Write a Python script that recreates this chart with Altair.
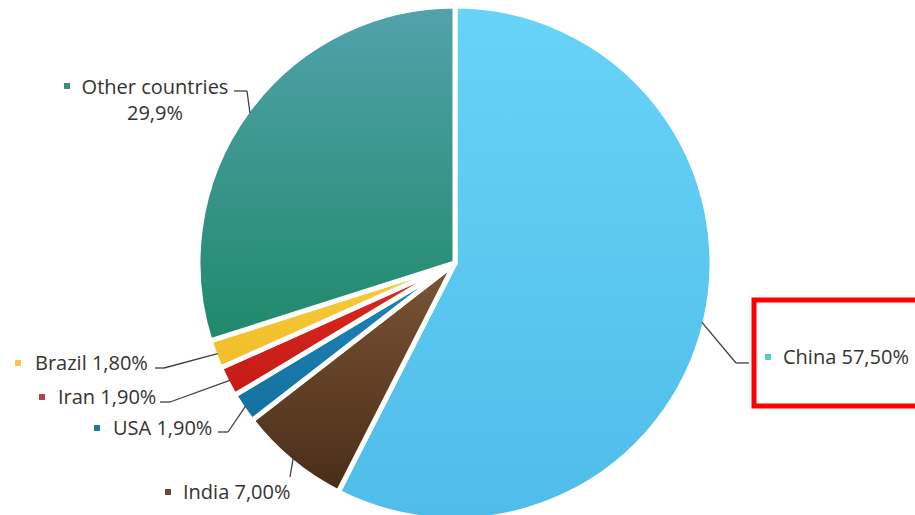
import altair as alt
import pandas as pd

# ---- data ----
countries = ["China", "India", "USA", "Iran", "Brazil", "Other countries"]
shares = [57.5, 7.0, 1.9, 1.9, 1.8, 29.9]
labels = ["China 57,50%", "India 7,00%", "USA 1,90%", "Iran 1,90%", "Brazil 1,80%", "Other countries\n29,9%"]

# ---- styles (gradient top / bottom colours, marker colour) ----
grad_top = ["#68d3f8", "#7b5636", "#1f86bd", "#e02a22", "#f7cd3c", "#52a2ab"]
grad_bot = ["#4fbde9", "#4a2c17", "#14709f", "#c41a16", "#f0bd28", "#1f896b"]
marker_col = ["#5ec6c8", "#6b4a35", "#1a7b9e", "#b5424f", "#f2c94a", "#3d8c7c"]

# ---- label layout (pixels) ----
text_x = [783, 183, 113, 58, 35, 155]
text_y = [358, 493, 429, 398, 364, 88]
mark_x = [768, 168, 97, 42, 18, 67]
mark_y = [357, 492, 428, 397, 363, 86]
elb_x = [736, 290, 228, 170, 164, 247]
elb_y = [363, 477, 432, 402, 368, 91]
end_x = [749, 290, 218, 160, 155, 234]
end_y = [363, 477, 432, 402, 368, 91]

CX, CY, R = 455, 263, 257
FONT = "Open Sans"
FS = 20

df = pd.DataFrame({
    "country": countries, "share": shares, "label": labels, "order": list(range(len(countries))),
    "tx": text_x, "ty": text_y, "mx": mark_x, "my": mark_y,
    "bx": elb_x, "by": elb_y, "nx": end_x, "ny": end_y, "mcol": marker_col,
})

base = alt.Chart(df).transform_window(
    cum="sum(share)", sort=[alt.SortField("order")]
).transform_calculate(
    start="datum.cum - datum.share",
    end="datum.cum",
    ang="(datum.cum - datum.share/2) / 100 * 2 * PI",
).transform_calculate(
    ex=f"{CX} + {R - 3} * sin(datum.ang)",
    ey=f"{CY} - {R - 3} * cos(datum.ang)",
)

theta_scale = alt.Scale(domain=[0, 100])
layers = []
for i, c in enumerate(countries):
    grad = alt.Gradient(
        gradient="linear", x1=0, y1=0, x2=0, y2=1,
        stops=[alt.GradientStop(offset=0, color=grad_top[i]),
               alt.GradientStop(offset=1, color=grad_bot[i])],
    )
    layers.append(
        base.transform_filter(alt.datum.country == c)
        .mark_arc(radius=R, fill=grad, stroke="white", strokeWidth=5)
        .encode(
            theta=alt.Theta("start:Q", scale=theta_scale, stack=None),
            theta2="end:Q",
            x=alt.value(CX), y=alt.value(CY),
        )
    )

lead1 = base.mark_rule(color="#404040", strokeWidth=1.3).encode(
    x=alt.X("ex:Q", scale=None), y=alt.Y("ey:Q", scale=None),
    x2="bx:Q", y2="by:Q",
)
lead2 = base.mark_rule(color="#404040", strokeWidth=1.3).encode(
    x=alt.X("bx:Q", scale=None), y=alt.Y("by:Q", scale=None),
    x2="nx:Q", y2="ny:Q",
)
markers = base.mark_square(size=36, opacity=1).encode(
    x=alt.X("mx:Q", scale=None), y=alt.Y("my:Q", scale=None),
    color=alt.Color("mcol:N", scale=None),
)
txt_left = base.transform_filter(alt.datum.country != "Other countries").mark_text(
    align="left", baseline="middle", font=FONT, fontSize=FS, color="#333333"
).encode(x=alt.X("tx:Q", scale=None), y=alt.Y("ty:Q", scale=None), text="label:N")
txt_center = base.transform_filter(alt.datum.country == "Other countries").mark_text(
    align="center", baseline="middle", font=FONT, fontSize=FS, color="#333333",
    lineBreak="\n", lineHeight=26,
).encode(x=alt.X("tx:Q", scale=None), y=alt.Y("ty:Q", scale=None), text="label:N")

box = alt.Chart(pd.DataFrame({"a": [0]})).mark_rect(
    fill="transparent", stroke="#ff0000", strokeWidth=5
).encode(x=alt.value(754), x2=alt.value(935), y=alt.value(300), y2=alt.value(406))

chart = alt.layer(*layers, lead1, lead2, markers, txt_left, txt_center, box).properties(
    width=915, height=515, padding=0, autosize=alt.AutoSizeParams(type="none"),
    background="white",
).configure_view(stroke=None)

chart.save("out.html", embed_options={"renderer": "svg", "actions": False})
